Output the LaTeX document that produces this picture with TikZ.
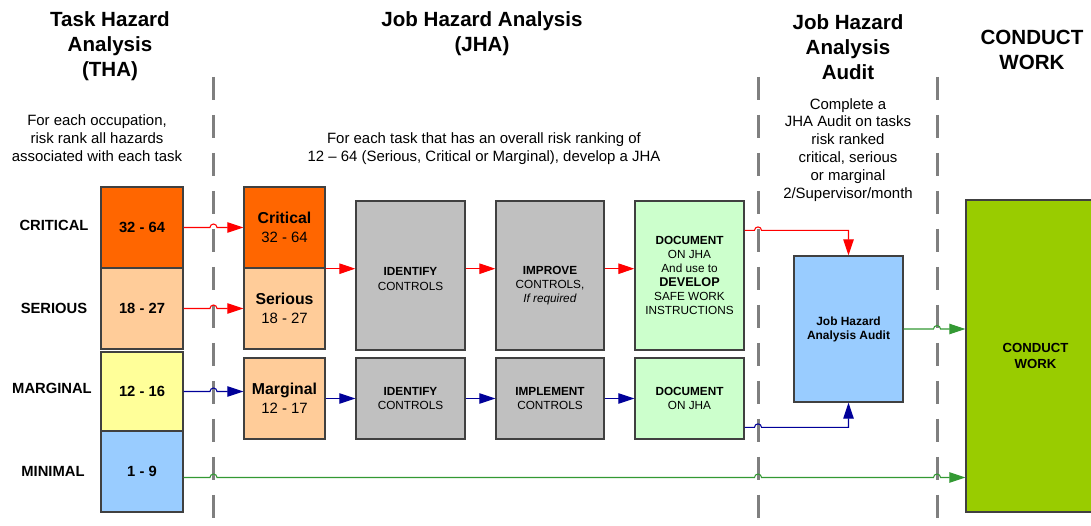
\documentclass[tikz,border=0pt]{standalone}
\usepackage{fontspec}
\setmainfont{Liberation Sans}
\usetikzlibrary{arrows.meta,calc}
\definecolor{crit}{HTML}{FF6600}
\definecolor{seri}{HTML}{FFCC99}
\definecolor{marg}{HTML}{FFFF99}
\definecolor{mini}{HTML}{99CCFF}
\definecolor{greybox}{HTML}{C0C0C0}
\definecolor{lgreen}{HTML}{CCFFCC}
\definecolor{cgreen}{HTML}{99CC00}
\definecolor{ared}{HTML}{FF0000}
\definecolor{ablue}{HTML}{000099}
\definecolor{agreen}{HTML}{339933}
\definecolor{dashgray}{HTML}{7F7F7F}
\definecolor{boxline}{HTML}{404040}
\newcommand\jmp[1]{-- ($(#1)+(-3.5,0)$) arc[start angle=180,end angle=0,radius=0.07cm]}
\begin{document}
\begin{tikzpicture}[x=0.02cm,y=-0.02cm,
  title/.style={font=\fontsize{11.7}{14.2}\selectfont\bfseries,align=center,inner sep=0pt},
  sub/.style={font=\fontsize{8.5}{10.2}\selectfont,align=center,inner sep=0pt},
  rank/.style={font=\fontsize{8.4}{10}\selectfont\bfseries,inner sep=0pt},
  box/.style={draw=boxline,line width=0.8pt,inner sep=0pt,align=center},
  tha/.style={box,minimum width=1.64cm,font=\fontsize{8.4}{10}\selectfont\bfseries},
  jha/.style={box,minimum width=1.62cm,minimum height=1.62cm,font=\fontsize{8.5}{10.8}\selectfont},
  step2/.style={box,minimum width=2.18cm,font=\fontsize{6.7}{8}\selectfont},
  dline/.style={dashgray,line width=1.7pt,dash pattern=on 0.46cm off 0.3cm},
  conn/.style={line width=0.6pt,-{Triangle[length=0.32cm,width=0.21cm]}},
  plain/.style={line width=0.6pt}
]
\useasboundingbox (0,0) rectangle (1091,526);
\fill[white] (0,0) rectangle (1091,526);

% dashed separators
\coordinate (d1) at (213.5,0);
\coordinate (d2) at (758,0);
\coordinate (d3) at (937,0);
\draw[dline] (213.5,77) -- (213.5,526);
\draw[dline] (758,77) -- (758,526);
\draw[dline] (937,77) -- (937,526);

% titles
\node[title] (t1) at (110,46) {Task Hazard\\Analysis\\(THA)};
\node[title] (t2) at (482,34) {Job Hazard Analysis\\(JHA)};
\node[title] (t3) at (848,47) {Job Hazard\\Analysis\\Audit};
\node[title] (t4) at (1032,50) {CONDUCT\\WORK};

% sub texts
\node[sub] (s1) at (97,138) {For each occupation,\\risk rank all hazards\\associated with each task};
\node[sub] (s2) at (484,149) {For each task that has an overall risk ranking of\\12 -- 64 (Serious, Critical or Marginal), develop a JHA};
\node[sub] (s3) at (848,150) {Complete a\\JHA Audit on tasks\\risk ranked\\critical, serious\\or marginal\\2/Supervisor/month};

% rank labels
\node[rank] (lc) at (54,225) {CRITICAL};
\node[rank] (ls) at (54,308) {SERIOUS};
\node[rank] (lm) at (52,388) {MARGINAL};
\node[rank] (ln) at (53,471) {MINIMAL};

% THA boxes
\node[tha,fill=crit,minimum height=1.62cm] (tc) at (142,227.5) {32 - 64};
\node[tha,fill=seri,minimum height=1.62cm] (ts) at (142,308.5) {18 - 27};
\node[tha,fill=marg,minimum height=1.58cm] (tm) at (142,391.5) {12 - 16};
\node[tha,fill=mini,minimum height=1.62cm] (tn) at (142,471.5) {1 - 9};

% JHA boxes
\node[jha,fill=crit] (jc) at (284.5,227.5) {\textbf{\fontsize{9}{10.8}\selectfont Critical}\\32 - 64};
\node[jha,fill=seri] (js) at (284.5,308.5) {\textbf{\fontsize{9}{10.8}\selectfont Serious}\\18 - 27};
\node[jha,fill=seri] (jm) at (284.5,398.5) {\textbf{\fontsize{9}{10.8}\selectfont Marginal}\\12 - 17};

% upper process row
\node[step2,fill=greybox,minimum height=2.98cm] (id1) at (410.5,275.5) {};
\node[step2,draw=none] (id1t) at (410.5,279) {\textbf{IDENTIFY}\\CONTROLS};
\node[step2,fill=greybox,minimum height=2.98cm,minimum width=2.16cm] (im1) at (550,275.5) {};
\node[step2,draw=none] (im1t) at (550,286) {\textbf{IMPROVE}\\CONTROLS,\\\textit{If required}};
\node[step2,fill=lgreen,minimum height=2.98cm] (doc1) at (689.5,275.5) {\textbf{DOCUMENT}\\ON JHA\\And use to\\\textbf{\fontsize{7.2}{8}\selectfont DEVELOP}\\SAFE WORK\\INSTRUCTIONS};

% lower process row
\node[step2,fill=greybox,minimum height=1.62cm] (id2) at (410.5,398.5) {\textbf{IDENTIFY}\\CONTROLS};
\node[step2,fill=greybox,minimum height=1.62cm,minimum width=2.16cm] (im2) at (550,398.5) {\textbf{IMPLEMENT}\\CONTROLS};
\node[step2,fill=lgreen,minimum height=1.62cm] (doc2) at (689.5,398.5) {\textbf{DOCUMENT}\\ON JHA};

% audit and conduct work
\node[step2,fill=mini,minimum height=2.92cm,font=\fontsize{6.8}{8}\selectfont\bfseries] (au) at (848.5,329) {Job Hazard\\Analysis Audit};
\node[box,fill=cgreen,minimum width=2.78cm,minimum height=6.24cm,font=\fontsize{7.5}{9.5}\selectfont\bfseries] (cw) at (1035.5,356) {CONDUCT\\WORK};

% THA -> JHA connectors
\draw[conn,ared] (tc.east) \jmp{tc.east -| d1} -- (jc.west);
\draw[conn,ared] (ts.east) \jmp{ts.east -| d1} -- (js.west);
\draw[conn,ablue] (tm.east) \jmp{tm.east -| d1} -- (tm.east -| jm.west);
\coordinate (mn) at ($(tn.east)+(0,6)$);
\draw[conn,agreen] (mn) \jmp{mn -| d1} \jmp{mn -| d2} \jmp{mn -| d3} -- (mn -| cw.west);

% upper row
\draw[conn,ared] (jc.south east) -- (jc.south east -| id1.west);
\draw[conn,ared] (jc.south east -| id1.east) -- (jc.south east -| im1.west);
\draw[conn,ared] (jc.south east -| im1.east) -- (jc.south east -| doc1.west);
% lower row
\draw[conn,ablue] (jm.east) -- (id2.west);
\draw[conn,ablue] (id2.east) -- (im2.west);
\draw[conn,ablue] (im2.east) -- (doc2.west);

% to audit
\coordinate (r1) at ($(doc1.north east)!0.2!(doc1.south east)$);
\draw[conn,ared] (r1) \jmp{r1 -| d2} -- (r1 -| au.north) -- (au.north);
\coordinate (b1) at ($(doc2.north east)!0.85!(doc2.south east)$);
\draw[conn,ablue] (b1) \jmp{b1 -| d2} -- (b1 -| au.south) -- (au.south);
\draw[conn,agreen] (au.east) \jmp{au.east -| d3} -- (au.east -| cw.west);
\end{tikzpicture}
\end{document}
